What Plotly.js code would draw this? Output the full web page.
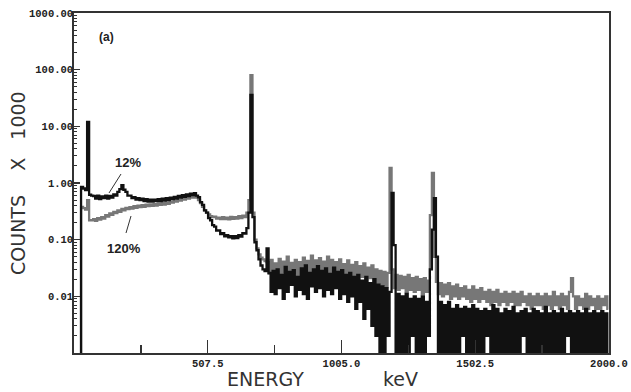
<!DOCTYPE html>
<html>
<head>
<meta charset="utf-8">
<script src="https://cdn.plot.ly/plotly-3.0.1.min.js"></script>
<style>html,body{margin:0;padding:0;background:#fff;}#chart{width:631px;height:392px;}</style>
</head>
<body>
<div id="chart"></div>
<script>
// Channel calibration (keV)
const energyStartKeV = 10;
const channelWidthKeV = 7.5;

// Counts x 1000, 12% series (black)
const counts12 = [
0.0003,0.0003,0.0003,0.0003,0.85,0.8,0.75,12,0.62,0.6,
0.59,0.53,0.6,0.52,0.58,0.54,0.6,0.53,0.59,0.55,
0.63,0.6,0.7,0.78,0.92,0.76,0.7,0.6,0.6,0.54,
0.56,0.51,0.54,0.5,0.53,0.48,0.52,0.47,0.51,0.47,
0.51,0.48,0.52,0.48,0.53,0.49,0.54,0.5,0.55,0.52,
0.57,0.53,0.59,0.55,0.61,0.57,0.63,0.59,0.65,0.61,
0.66,0.6,0.56,0.46,0.41,0.33,0.3,0.24,0.22,0.18,
0.17,0.145,0.145,0.125,0.13,0.115,0.12,0.11,0.115,0.105,
0.115,0.107,0.12,0.113,0.13,0.128,0.16,0.3,36,0.25,
0.09,0.065,0.045,0.035,0.03,0.028,0.07,0.026,0.012,0.028,
0.011,0.03,0.014,0.024,0.009,0.033,0.012,0.027,0.016,0.029,
0.01,0.022,0.013,0.031,0.011,0.035,0.009,0.026,0.015,0.03,
0.012,0.034,0.014,0.028,0.01,0.031,0.013,0.025,0.011,0.032,
0.014,0.027,0.009,0.029,0.011,0.024,0.008,0.026,0.01,0.022,
0.006,0.024,0.008,0.019,0.004,0.022,0.006,0.017,0.003,0.02,
0.002,0.016,0.001,0.015,0.0003,0.014,0.002,0.012,0.67,0.08,
0.0003,0.011,0.0003,0.01,0.001,0.011,0.0003,0.009,0.002,0.01,
0.0003,0.009,0.001,0.01,0.0003,0.008,0.002,0.03,0.15,0.54,
0.05,0.0003,0.008,0.0003,0.007,0.001,0.008,0.0003,0.006,0.0003,
0.007,0.0003,0.006,0.002,0.0065,0.0003,0.006,0.0003,0.007,0.001,
0.006,0.0003,0.0055,0.0003,0.006,0.002,0.0055,0.0003,0.007,0.0003,
0.006,0.0003,0.005,0.001,0.006,0.0003,0.0055,0.0003,0.0065,0.0003,
0.005,0.0003,0.0055,0.002,0.006,0.0003,0.005,0.0003,0.006,0.0003,
0.0055,0.0003,0.005,0.001,0.0065,0.0003,0.005,0.0003,0.0055,0.0003,
0.005,0.0003,0.006,0.0003,0.005,0.002,0.0055,0.0003,0.005,0.0003,
0.0055,0.0003,0.005,0.0003,0.006,0.001,0.005,0.0003,0.0055,0.0003,
0.005,0.0003,0.0055,0.0003,0.005,0.0003
];

// Counts x 1000, 120% series (gray)
const counts120 = [
0.0003,0.0003,0.0003,0.0003,0.38,0.36,0.34,0.5,0.22,0.22,
0.23,0.215,0.24,0.225,0.25,0.235,0.27,0.255,0.29,0.275,
0.31,0.295,0.33,0.31,0.35,0.33,0.365,0.345,0.375,0.355,
0.39,0.365,0.4,0.375,0.405,0.38,0.415,0.39,0.42,0.395,
0.425,0.4,0.435,0.41,0.44,0.415,0.455,0.43,0.47,0.45,
0.49,0.47,0.51,0.49,0.53,0.51,0.55,0.53,0.57,0.55,
0.59,0.55,0.5,0.44,0.38,0.33,0.3,0.28,0.26,0.25,
0.255,0.235,0.245,0.23,0.25,0.23,0.245,0.228,0.252,0.232,
0.25,0.235,0.26,0.24,0.265,0.25,0.3,0.5,80,0.3,
0.1,0.07,0.055,0.048,0.045,0.042,0.04,0.025,0.044,0.023,
0.038,0.024,0.046,0.022,0.041,0.027,0.05,0.023,0.039,0.026,
0.044,0.022,0.04,0.025,0.048,0.023,0.042,0.028,0.052,0.024,
0.043,0.026,0.047,0.022,0.041,0.025,0.05,0.023,0.044,0.027,
0.04,0.022,0.045,0.024,0.037,0.021,0.043,0.023,0.036,0.022,
0.04,0.019,0.034,0.022,0.038,0.018,0.032,0.021,0.035,0.017,
0.03,0.017,0.028,0.016,0.027,0.015,0.026,1.84,0.03,0.014,
0.024,0.013,0.023,0.014,0.022,0.012,0.024,0.013,0.021,0.012,
0.022,0.013,0.02,0.011,0.021,0.012,0.019,0.27,1.5,0.05,
0.018,0.011,0.017,0.01,0.016,0.011,0.017,0.009,0.015,0.01,
0.016,0.009,0.014,0.01,0.015,0.009,0.013,0.008,0.015,0.009,
0.013,0.008,0.014,0.009,0.012,0.008,0.013,0.007,0.012,0.008,
0.013,0.007,0.011,0.008,0.012,0.007,0.011,0.008,0.012,0.007,
0.011,0.007,0.012,0.008,0.01,0.007,0.011,0.006,0.01,0.007,
0.011,0.007,0.01,0.006,0.011,0.007,0.01,0.006,0.012,0.007,
0.01,0.006,0.011,0.007,0.01,0.006,0.012,0.021,0.01,0.006,
0.01,0.007,0.009,0.006,0.011,0.006,0.01,0.007,0.009,0.006,
0.01,0.006,0.009,0.007,0.01,0.006
];

const xTickVals = [507.5, 1005.0, 1502.5, 2000.0];
const xTickText = ['507.5', '1005.0', '1502.5', '2000.0'];
const xMinorVals = [258.75, 756.25, 1253.75, 1751.25];
const yTickVals = [0.01, 0.1, 1, 10, 100, 1000];
const yTickText = ['0.01', '0.10', '1.00', '10.00', '100.00', '1000.00'];

const energy = counts12.map((_, i) => energyStartKeV + i * channelWidthKeV);
const yMinor = [];
[0.001, 0.01, 0.1, 1, 10, 100].forEach(d => { for (let k = 2; k <= 9; k++) yMinor.push(d * k); });

const tickFont = {family: 'Liberation Mono, DejaVu Sans Mono, monospace', size: 10.5, color: '#222', weight: 'bold'};
const titleFont = {family: 'DejaVu Sans, sans-serif', size: 19, color: '#333'};
const labelFont = {family: 'Liberation Sans, Arial, sans-serif', size: 13, color: '#222', weight: 'bold'};

const traces = [
  {x: energy, y: counts120, type: 'scatter', mode: 'lines', line: {color: '#777777', width: 2.3, shape: 'hvh'}, hoverinfo: 'skip'},
  {x: energy, y: counts12, type: 'scatter', mode: 'lines', line: {color: '#111111', width: 2.3, shape: 'hvh'}, hoverinfo: 'skip'}
];

const L = 74, R = 609, T = 13, B = 353;
const px = x => (x - L) / (R - L);
const py = y => (B - y) / (B - T);

const nb = '\u00A0';
const layout = {
  width: 631, height: 392,
  margin: {l: L, r: 631 - R, t: T, b: 392 - B, pad: 0},
  paper_bgcolor: '#fff', plot_bgcolor: '#fff',
  showlegend: false,
  xaxis: {
    range: [10, 2000], showgrid: false, zeroline: false,
    tickmode: 'array', tickvals: xTickVals, ticktext: xTickText,
    ticks: 'inside', ticklen: 13, tickwidth: 1.3, tickcolor: '#333',
    minor: {tickvals: xMinorVals, ticks: 'inside', ticklen: 8, tickwidth: 1.3, tickcolor: '#333'},
    showline: true, linecolor: '#333', linewidth: 1.8, mirror: true,
    tickfont: tickFont
  },
  yaxis: {
    type: 'log', range: [-3, 3], showgrid: false, zeroline: false,
    tickmode: 'array', tickvals: yTickVals, ticktext: yTickText,
    ticks: 'inside', ticklen: 6, tickwidth: 1.2, tickcolor: '#333',
    minor: {tickvals: yMinor, ticks: 'inside', ticklen: 3, tickwidth: 1, tickcolor: '#333'},
    showline: true, linecolor: '#333', linewidth: 1.8, mirror: true,
    tickfont: tickFont, ticklabelstandoff: -3
  },
  annotations: [
    {xref: 'paper', yref: 'paper', x: px(18), y: py(183), text: 'COUNTS' + nb.repeat(4) + 'X' + nb.repeat(3) + '1000', textangle: -90, showarrow: false, font: titleFont, xanchor: 'center', yanchor: 'middle'},
    {xref: 'paper', yref: 'paper', x: px(265), y: py(379), text: 'ENERGY', showarrow: false, font: titleFont, xanchor: 'center', yanchor: 'middle'},
    {xref: 'paper', yref: 'paper', x: px(400), y: py(379), text: 'keV', showarrow: false, font: titleFont, xanchor: 'center', yanchor: 'middle'},
    {xref: 'paper', yref: 'paper', x: px(106.5), y: py(37.5), text: '(a)', showarrow: false, font: {family: 'Liberation Sans, Arial, sans-serif', size: 12, color: '#222', weight: 'bold'}, xanchor: 'center', yanchor: 'middle'},
    {xref: 'paper', yref: 'paper', x: px(128), y: py(162), text: '12%', showarrow: false, font: labelFont, xanchor: 'center', yanchor: 'middle'},
    {xref: 'paper', yref: 'paper', x: px(123.5), y: py(248), text: '120%', showarrow: false, font: labelFont, xanchor: 'center', yanchor: 'middle'}
  ],
  shapes: [
    {type: 'line', xref: 'paper', yref: 'paper', x0: px(121), y0: py(174), x1: px(109), y1: py(193), line: {color: '#333', width: 1}},
    {type: 'line', xref: 'paper', yref: 'paper', x0: px(131), y0: py(216), x1: px(126), y1: py(233), line: {color: '#333', width: 1}}
  ]
};

Plotly.newPlot('chart', traces, layout, {displayModeBar: false, staticPlot: true});
</script>
</body>
</html>
